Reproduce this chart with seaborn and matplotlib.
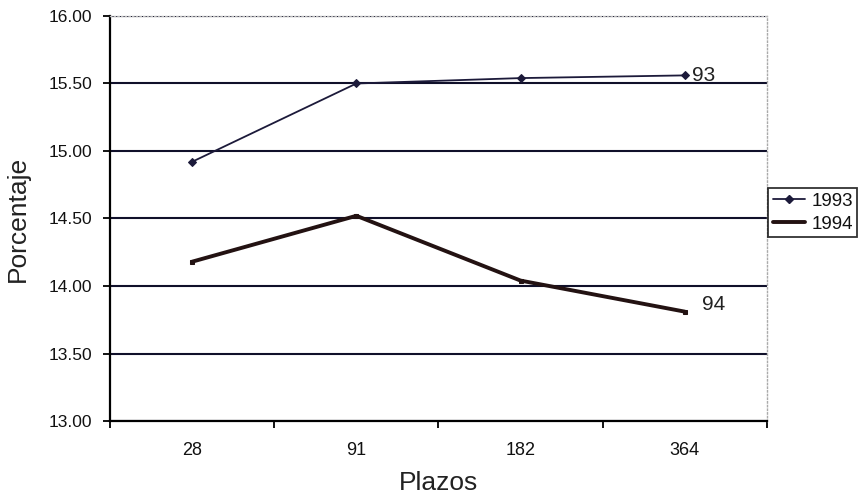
import matplotlib
matplotlib.use("Agg")
import matplotlib.pyplot as plt
import seaborn as sns
import pandas as pd
from matplotlib.ticker import FixedLocator
from matplotlib.lines import Line2D

plazos = ["28", "91", "182", "364"]
y1993 = [14.92, 15.50, 15.54, 15.56]
y1994 = [14.18, 14.52, 14.04, 13.81]
years = ["1993", "1994"]
yticks = [13.0, 13.5, 14.0, 14.5, 15.0, 15.5, 16.0]

df = pd.DataFrame({
    "Plazos": plazos * 2,
    "Porcentaje": y1993 + y1994,
    "Año": [years[0]] * 4 + [years[1]] * 4,
})

sns.set_theme(style="white")
plt.rcParams["font.family"] = ["Liberation Sans", "DejaVu Sans"]

fig = plt.figure(figsize=(8.64, 4.98), dpi=100)
ax = fig.add_axes([0.1273, 0.1546, 0.7604, 0.8133])

palette = {"1993": "#1c1a3a", "1994": "#231212"}
sns.lineplot(data=df, x="Plazos", y="Porcentaje", hue="Año", style="Año",
             markers={"1993": "D", "1994": "s"}, dashes=False, sort=False,
             palette=palette, ax=ax, legend=False)
lines = ax.get_lines()
lines[0].set_linewidth(1.3)
lines[0].set_markersize(4.5)
lines[0].set_markeredgecolor(palette["1993"])
lines[1].set_linewidth(2.8)
lines[1].set_markersize(3)
lines[1].set_markeredgecolor(palette["1994"])

ax.set_xlim(-0.5, 3.5)
ax.set_ylim(13.0, 16.0)
ax.set_yticks(yticks)
ax.set_yticklabels([f"{v:.2f}" for v in yticks])
ax.set_xticks(range(len(plazos)))
ax.set_xticklabels(plazos, fontsize=13)
ax.xaxis.set_minor_locator(FixedLocator([-0.5, 0.5, 1.5, 2.5, 3.5]))
ax.tick_params(axis="x", which="major", length=0, pad=15, colors="#111111")
ax.tick_params(axis="x", which="minor", length=5, width=1.3, color="black", direction="out", bottom=True)
ax.tick_params(axis="y", length=5, width=1.3, color="black", direction="out", left=True,
               labelsize=12.5, colors="#111111", pad=8)
ax.grid(axis="y", color="#10102a", linewidth=1.5)
ax.set_axisbelow(True)

for s in ["left", "bottom"]:
    ax.spines[s].set_color("black")
    ax.spines[s].set_linewidth(1.6)
ax.spines["right"].set_color("#aaaaaa")
ax.spines["right"].set_linestyle(":")
ax.spines["right"].set_linewidth(1)
ax.spines["top"].set_color("#bbbbbb")
ax.spines["top"].set_linestyle(":")
ax.spines["top"].set_linewidth(1)

ax.set_xlabel("Plazos", fontsize=19, color="#222222", labelpad=9)
ax.set_ylabel("Porcentaje", fontsize=19, color="#222222", labelpad=13)

ax.annotate("93", xy=(3, y1993[-1]), xytext=(5, 0), textcoords="offset points",
            fontsize=15, va="center", ha="left", color="#222222")
ax.annotate("94", xy=(3, y1994[-1]), xytext=(12, 5), textcoords="offset points",
            fontsize=15, va="center", ha="left", color="#222222")

handles = [Line2D([], [], color=palette["1993"], lw=1.3, marker="D", markersize=4.5),
           Line2D([], [], color=palette["1994"], lw=2.8)]
leg = fig.legend(handles, years, loc="upper left", bbox_to_anchor=(0.889, 0.622),
                 frameon=True, fancybox=False, fontsize=13.5, handlelength=1.7,
                 handletextpad=0.35, borderpad=0.25, labelspacing=0.3, borderaxespad=0)
leg.get_frame().set_edgecolor("black")
leg.get_frame().set_linewidth(1.3)
for t in leg.get_texts():
    t.set_color("#111111")

fig.savefig("out.png", dpi=100)
